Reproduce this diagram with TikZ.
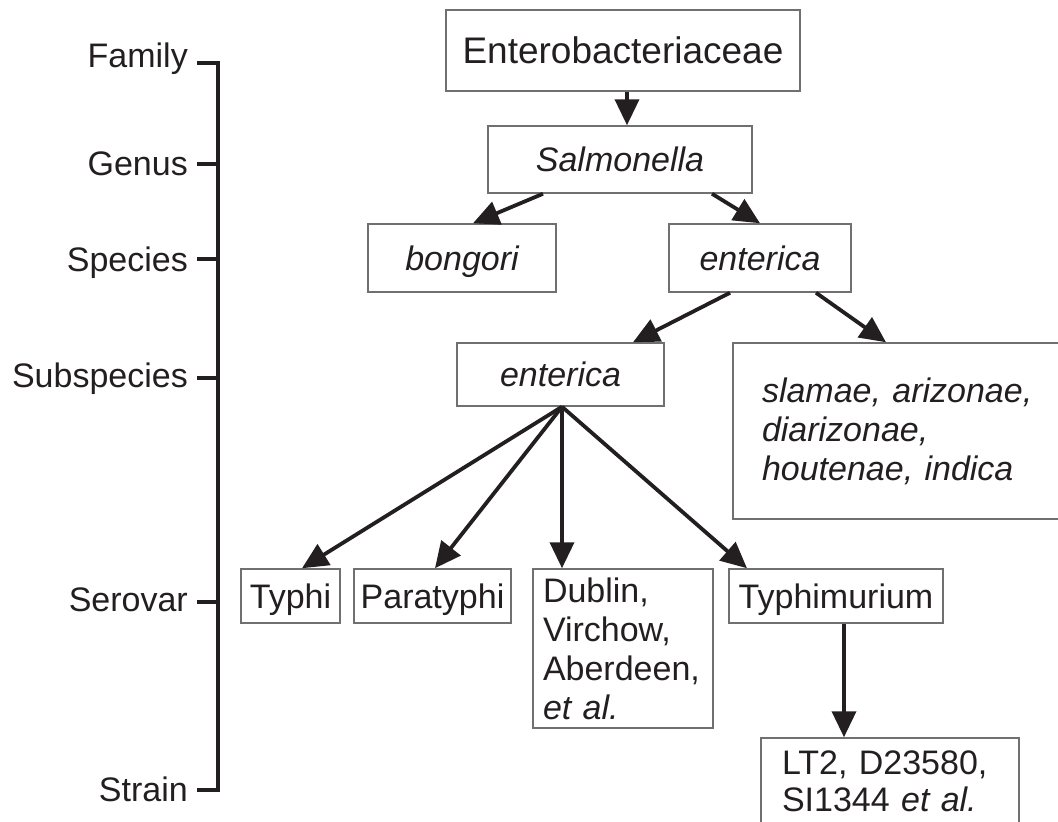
\documentclass[tikz,border=0pt]{standalone}
\usepackage{fontspec}
\setmainfont{Liberation Sans}
\usetikzlibrary{arrows.meta}
\definecolor{ink}{HTML}{231F20}
\definecolor{edge}{HTML}{707070}
\tikzset{
  box/.style={draw=edge, line width=1.5pt, inner sep=0pt, text=ink, font=\fontsize{34}{39}\selectfont},
  one/.style={text height=24.3pt, text depth=0pt},
  conn/.style={draw=ink, line width=3.8pt, -{Triangle[length=26pt,width=24pt]}},
  lvl/.style={anchor=base east, inner sep=0pt, text=ink, font=\fontsize{34}{39}\selectfont},
  brk/.style={draw=ink, line width=4.5pt},
}
\begin{document}
\begin{tikzpicture}[x=1pt,y=-1pt]
\useasboundingbox[fill=white] (0,0) rectangle (1058,822);

% level labels
\node[lvl] (lfam) at (188,67) {Family};
\node[lvl] (lgen) at (188,175) {Genus};
\node[lvl] (lspe) at (188,271.5) {Species};
\node[lvl] (lsub) at (188,387) {Subspecies};
\node[lvl] (lser) at (188,611.5) {Serovar};
\node[lvl] (lstr) at (188,801.5) {Strain};

% bracket
\draw[brk] (197,63) -- (218,63) -- (218,790) -- (197,790);
\draw[brk] (197,164) -- (218,164);
\draw[brk] (197,259) -- (218,259);
\draw[brk] (197,378) -- (218,378);
\draw[brk] (197,602) -- (218,602);

% boxes
\node[box, one, minimum width=354pt, minimum height=81pt, font=\fontsize{37}{42}\selectfont, text height=26.5pt] (ent) at (623,50.5) {Enterobacteriaceae};
\node[box, one, minimum width=264pt, minimum height=67pt] (sal) at (620,159.5) {\itshape Salmonella};
\node[box, one, minimum width=188pt, minimum height=68pt] (bon) at (462,258) {\itshape bongori};
\node[box, one, minimum width=182pt, minimum height=68pt] (ens) at (760,258) {\itshape enterica};
\node[box, one, minimum width=207pt, minimum height=63pt] (esub) at (560.5,374.5) {\itshape enterica};
\node[box, minimum width=338pt, minimum height=176pt, text width=280pt, inner xsep=29pt, align=left] (sla) at (902,431)
  {\itshape slamae, arizonae,\\ diarizonae,\\ houtenae, indica};
\node[box, one, minimum width=99pt, minimum height=54pt] (typ) at (290.5,596) {Typhi};
\node[box, one, minimum width=157pt, minimum height=54pt] (par) at (432.5,596) {Paratyphi};
\node[box, minimum width=180pt, minimum height=159pt, text width=160pt, inner xsep=10pt, align=left] (dub) at (623,648.5)
  {Dublin,\\ Virchow,\\ Aberdeen,\\ \textit{et al.}};
\node[box, one, minimum width=214pt, minimum height=54pt] (tym) at (836,596) {Typhimurium};
\node[box, minimum width=258pt, minimum height=86pt, text width=216pt, inner xsep=21pt, align=left, font=\fontsize{34}{37}\selectfont] (lt) at (890,781)
  {LT2, D23580,\\ SI1344 \textit{et al.}};

% connectors
\draw[conn] ([xshift=4pt]ent.south) -- ([xshift=7pt]sal.north);
\draw[conn] ([xshift=-77pt]sal.south) -- ([xshift=11pt]bon.north);
\draw[conn] ([xshift=92pt]sal.south) -- (ens.north);
\draw[conn] ([xshift=-30pt]ens.south) -- ([xshift=72.5pt]esub.north);
\draw[conn] ([xshift=56pt]ens.south) -- ([xshift=-16pt]sla.north);
\draw[conn] ([xshift=1.5pt]esub.south) -- ([xshift=11.5pt]typ.north);
\draw[conn] ([xshift=1.5pt]esub.south) -- ([xshift=2.5pt]par.north);
\draw[conn] ([xshift=1.5pt]esub.south) -- ([xshift=-61pt]dub.north);
\draw[conn] ([xshift=1.5pt]esub.south) -- ([xshift=-89pt]tym.north);
\draw[conn] ([xshift=8pt]tym.south) -- ([xshift=-46pt]lt.north);
\end{tikzpicture}
\end{document}
